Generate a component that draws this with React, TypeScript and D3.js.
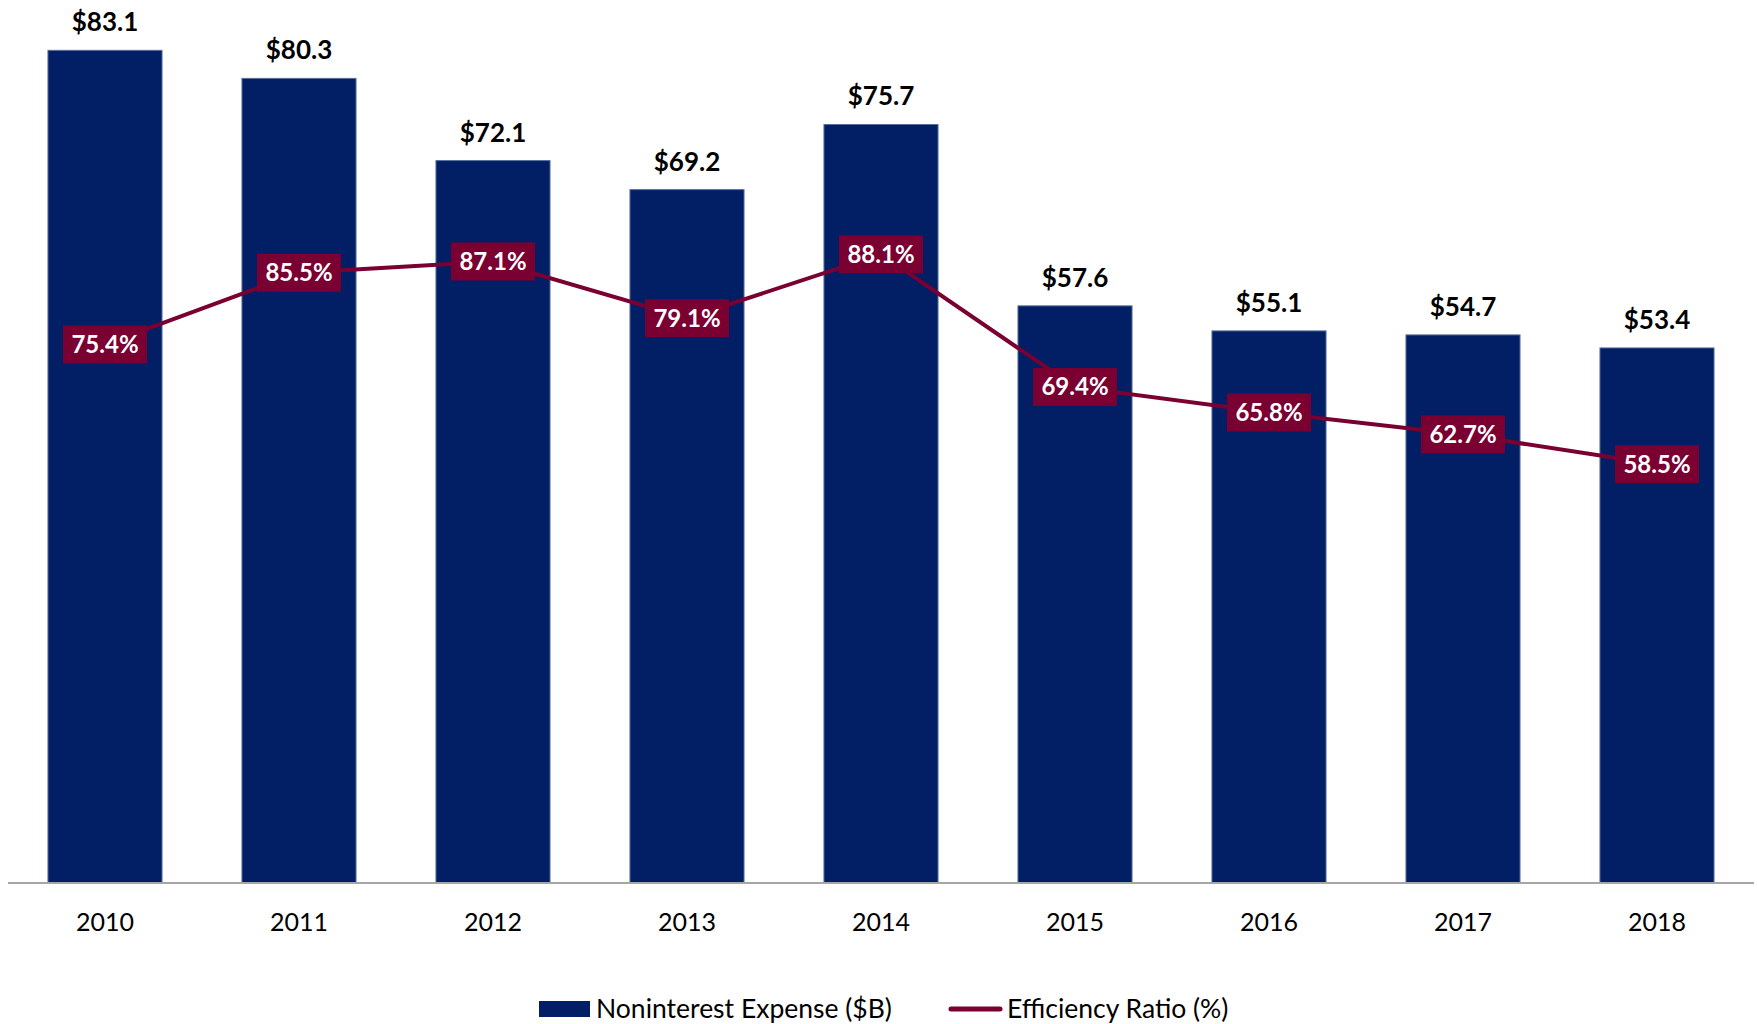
import { useEffect, useRef } from "react"
import * as d3 from "d3"

const years = ["2010", "2011", "2012", "2013", "2014", "2015", "2016", "2017", "2018"]
const expense = [83.1, 80.3, 72.1, 69.2, 75.7, 57.6, 55.1, 54.7, 53.4]
const ratio = [75.4, 85.5, 87.1, 79.1, 88.1, 69.4, 65.8, 62.7, 58.5]
const legendLabels = ["Noninterest Expense ($B)", "Efficiency Ratio (%)"]

export default function App() {
    const ref = useRef<SVGSVGElement>(null)
    const width = 1757, height = 1024
    const barColor = "#021f66", lineColor = "#7a0032"
    const font = "Lato, 'Open Sans', sans-serif"

    useEffect(() => {
        const svg = d3.select(ref.current)
        svg.selectAll("*").remove()

        const baseline = 883

        const xScale = d3.scaleBand<string>()
            .domain(years)
            .range([8, 1754])
            .paddingInner(0.412)
            .paddingOuter(0.206)

        // left axis: $B, hidden
        const yScale = d3.scaleLinear()
            .domain([0, 90])
            .range([baseline, baseline - 90 * 10.02])

        // right axis: %, hidden
        const y2Scale = d3.scaleLinear()
            .domain([0, 100])
            .range([879, 170])

        const data = years.map((y, i) => ({ year: y, expense: expense[i], ratio: ratio[i] }))

        svg.append("g")
            .selectAll("rect")
            .data(data)
            .join("rect")
            .attr("x", (d) => xScale(d.year)!)
            .attr("y", (d) => yScale(d.expense))
            .attr("width", xScale.bandwidth())
            .attr("height", (d) => baseline - yScale(d.expense))
            .attr("fill", barColor)
            .attr("stroke", "#5a6f9f")
            .attr("stroke-width", 1)

        svg.append("line")
            .attr("x1", 8)
            .attr("x2", 1754)
            .attr("y1", baseline)
            .attr("y2", baseline)
            .attr("stroke", "#a6a6a6")
            .attr("stroke-width", 2)

        svg.append("g")
            .selectAll("text")
            .data(data)
            .join("text")
            .attr("x", (d) => xScale(d.year)! + xScale.bandwidth() / 2)
            .attr("y", (d) => yScale(d.expense) - 19)
            .attr("text-anchor", "middle")
            .style("font-family", font)
            .style("font-weight", "bold")
            .style("font-size", "26px")
            .attr("fill", "#000")
            .text((d) => "$" + d.expense.toFixed(1))

        svg.append("g")
            .selectAll("text")
            .data(data)
            .join("text")
            .attr("x", (d) => xScale(d.year)! + xScale.bandwidth() / 2)
            .attr("y", 931)
            .attr("text-anchor", "middle")
            .style("font-family", font)
            .style("font-size", "25px")
            .attr("fill", "#000")
            .text((d) => d.year)

        const linePath = d3.line<any>()
            .x((d) => xScale(d.year)! + xScale.bandwidth() / 2)
            .y((d) => y2Scale(d.ratio))

        svg.append("path")
            .attr("d", linePath(data))
            .attr("fill", "none")
            .attr("stroke", lineColor)
            .attr("stroke-width", 4)

        const labels = svg.append("g")
            .selectAll("g")
            .data(data)
            .join("g")
            .attr("transform", (d) => `translate(${xScale(d.year)! + xScale.bandwidth() / 2}, ${y2Scale(d.ratio)})`)

        labels.append("rect")
            .attr("x", -42)
            .attr("y", -19)
            .attr("width", 84)
            .attr("height", 38)
            .attr("fill", lineColor)

        labels.append("text")
            .attr("text-anchor", "middle")
            .attr("dy", "0.35em")
            .style("font-family", font)
            .style("font-weight", "bold")
            .style("font-size", "24px")
            .attr("fill", "#fff")
            .text((d) => d.ratio.toFixed(1) + "%")

        // legend
        const legend = svg.append("g")

        legend.append("rect")
            .attr("x", 539)
            .attr("y", 1001)
            .attr("width", 51)
            .attr("height", 16)
            .attr("fill", barColor)

        legend.append("text")
            .attr("x", 596)
            .attr("y", 1018)
            .style("font-family", font)
            .style("font-size", "26.5px")
            .attr("fill", "#000")
            .text(legendLabels[0])

        legend.append("line")
            .attr("x1", 951)
            .attr("x2", 1000)
            .attr("y1", 1009)
            .attr("y2", 1009)
            .attr("stroke", lineColor)
            .attr("stroke-width", 5)
            .attr("stroke-linecap", "round")

        legend.append("text")
            .attr("x", 1007)
            .attr("y", 1018)
            .style("font-family", font)
            .style("font-size", "26.5px")
            .attr("fill", "#000")
            .text(legendLabels[1])
    }, [])

    return (
        <div style={{ position: "absolute", left: 0, top: 0, width, height, background: "#fff" }}>
            <svg ref={ref} width={width} height={height}></svg>
        </div>
    )
}
